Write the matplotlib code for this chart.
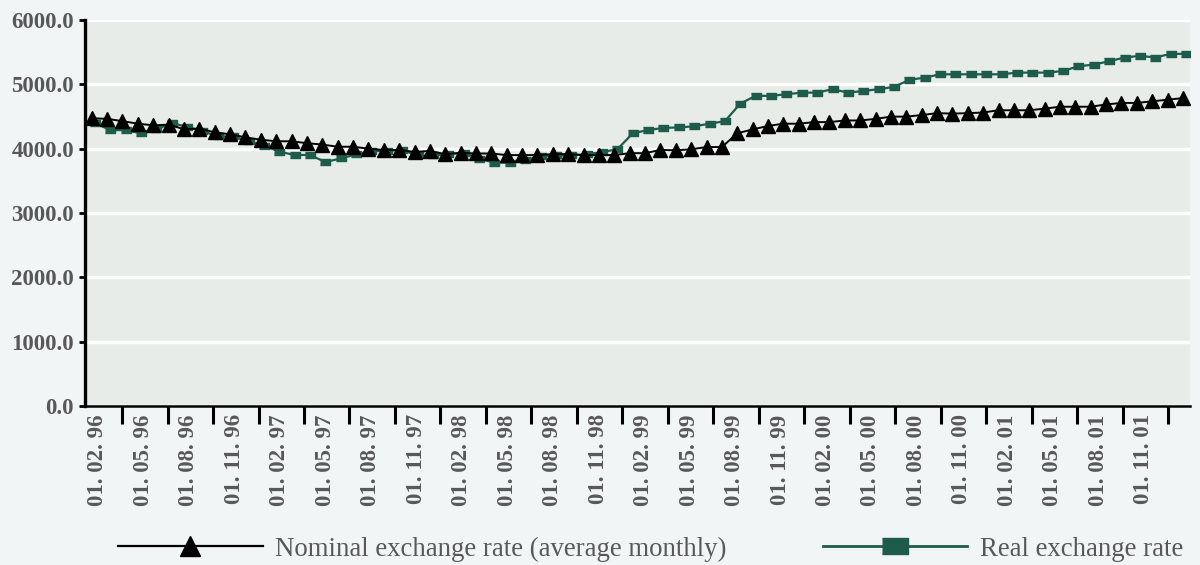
import numpy as np
import matplotlib
matplotlib.use('Agg')
import matplotlib.pyplot as plt
from matplotlib.lines import Line2D

# monthly values, 01.02.96 .. 01.01.02
nominal = [4473, 4463, 4428, 4388, 4363, 4373, 4303, 4313, 4254, 4224,
           4175, 4139, 4115, 4115, 4085, 4064, 4030, 4030, 4000, 3980,
           3980, 3950, 3965, 3915, 3935, 3925, 3925, 3900, 3900, 3900,
           3915, 3915, 3900, 3900, 3900, 3930, 3930, 3980, 3975, 3990,
           4025, 4025, 4239, 4299, 4353, 4388, 4388, 4413, 4413, 4438,
           4438, 4463, 4498, 4498, 4522, 4552, 4545, 4552, 4562, 4597,
           4597, 4597, 4622, 4652, 4652, 4652, 4687, 4711, 4711, 4736,
           4761, 4786]
real = [4403, 4288, 4288, 4239, 4299, 4399, 4339, 4273, 4190, 4190,
        4115, 4049, 3953, 3902, 3902, 3792, 3848, 3911, 3960, 3970,
        3975, 3896, 3896, 3912, 3938, 3844, 3782, 3782, 3818, 3886,
        3896, 3896, 3912, 3948, 3990, 4239, 4289, 4323, 4330, 4348,
        4388, 4428, 4701, 4821, 4821, 4846, 4871, 4871, 4925, 4871,
        4896, 4925, 4960, 5070, 5104, 5156, 5156, 5156, 5156, 5156,
        5182, 5182, 5182, 5208, 5281, 5307, 5359, 5417, 5443, 5417,
        5474, 5474]
date_labels = ['01. 02. 96', '01. 05. 96', '01. 08. 96', '01. 11. 96',
               '01. 02. 97', '01. 05. 97', '01. 08. 97', '01. 11. 97',
               '01. 02. 98', '01. 05. 98', '01. 08. 98', '01. 11. 98',
               '01. 02. 99', '01. 05. 99', '01. 08. 99', '01. 11. 99',
               '01. 02. 00', '01. 05. 00', '01. 08. 00', '01. 11. 00',
               '01. 02. 01', '01. 05. 01', '01. 08. 01', '01. 11. 01']
y_ticks = [0, 1000, 2000, 3000, 4000, 5000, 6000]

green = '#1d5c4a'
grey_text = '#585858'
plt.rcParams['font.family'] = ['Liberation Serif', 'DejaVu Serif']

fig = plt.figure(figsize=(12, 5.65), dpi=100, facecolor='#f2f5f6')
ax = fig.add_axes([85 / 1200, 1 - 406 / 565, 1105 / 1200, 386 / 565])
ax.set_facecolor('#e8ece9')

rect = [(-1.7, -1), (1.7, -1), (1.7, 1), (-1.7, 1)]
x = np.arange(len(nominal))
ax.plot(x + 0.2, real, color=green, lw=1.6, marker=rect, ms=6.5, zorder=2)
ax.plot(x, nominal, color='black', lw=1.4, marker='^', ms=9.5, zorder=3)

n = len(nominal)
scale = n / (n + 1)
lab_pos = np.arange(0, n, 3)[:len(date_labels)] * scale
ax.set_xlim(-0.44, n - 0.54)
ax.set_xticks(lab_pos + 0.4)
ax.set_xticklabels(date_labels, rotation=90, fontsize=16.5, fontweight='bold',
                   color=grey_text)
ax.set_xticks(lab_pos + 2 * scale, minor=True)
ax.tick_params(axis='x', which='major', length=0, pad=6)
ax.tick_params(axis='x', which='minor', length=13, width=2.2, color='black',
               direction='out')

ax.set_ylim(0, 6000)
ax.set_yticks(y_ticks)
ax.set_yticklabels([f'{v:.1f}' for v in y_ticks], fontsize=16.5,
                   fontweight='bold', color=grey_text)
ax.tick_params(axis='y', length=4, width=2, color='black', pad=4)

ax.yaxis.grid(True, color='white', lw=2.5)
ax.set_axisbelow(True)
for s in ['top', 'right']:
    ax.spines[s].set_visible(False)
ax.spines['left'].set_linewidth(2.4)
ax.spines['bottom'].set_linewidth(1.8)

handles = [Line2D([], [], color='black', lw=1.6, marker='^', ms=14),
           Line2D([], [], color=green, lw=2, marker=rect, ms=19)]
fig.legend(handles, ['Nominal exchange rate (average monthly)', 'Real exchange rate'],
           loc='center left', bbox_to_anchor=(118 / 1200, 1 - 549 / 565),
           ncol=2, frameon=False, fontsize=19.3, labelcolor=grey_text,
           handlelength=5.4, handletextpad=0.45, columnspacing=3.6,
           borderpad=0, borderaxespad=0)

fig.savefig('out.png', dpi=100, facecolor=fig.get_facecolor())
